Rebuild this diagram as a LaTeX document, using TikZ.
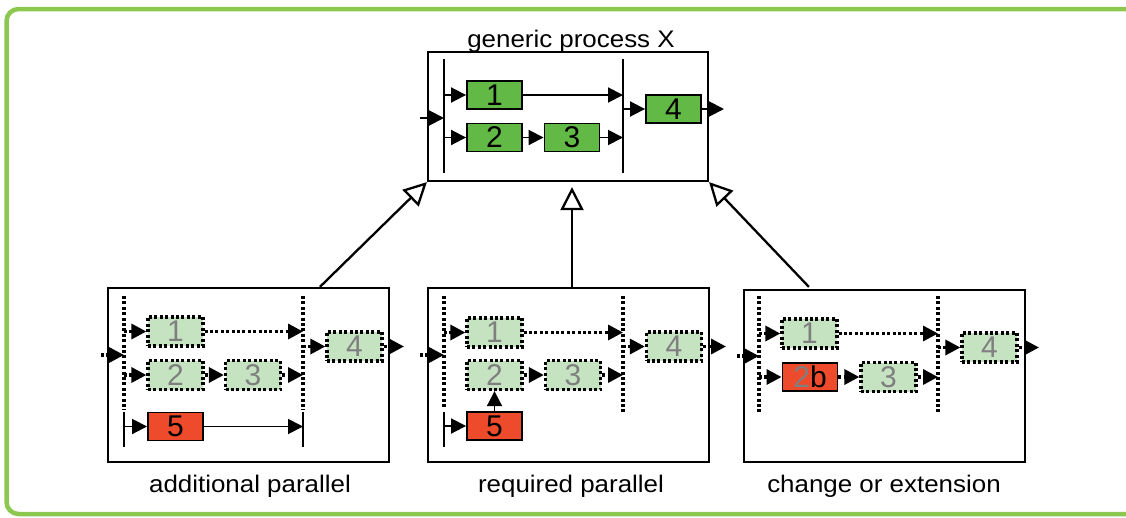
\documentclass[tikz,border=0pt]{standalone}
\usepackage{fontspec}
\setmainfont{Liberation Sans}
\usetikzlibrary{arrows.meta,calc}
\definecolor{framec}{HTML}{8CC84F}
\definecolor{dg}{HTML}{63B946}
\definecolor{lg}{HTML}{C5E3C1}
\definecolor{rd}{HTML}{EE4B2C}
\definecolor{gtext}{HTML}{7F7F7F}
\tikzset{
  pbox/.style={draw, line width=1.9pt, minimum width=55pt, minimum height=28pt, inner sep=0pt, font=\fontsize{30}{30}\selectfont},
  gbox/.style={pbox, fill=dg},
  rbox/.style={pbox, fill=rd},
  lbox/.style={draw, line width=3.3pt, dash pattern=on 3pt off 2.4pt, fill=lg, text=gtext, minimum width=55pt, minimum height=29pt, inner sep=0pt, font=\fontsize{30}{30}\selectfont},
  outer/.style={draw, line width=2.2pt, inner sep=0pt},
  arr/.style={line width=1.9pt, -{Triangle[length=15pt,width=15pt]}},
  darr/.style={line width=3.3pt, dash pattern=on 3pt off 2.4pt, -{Triangle[length=15pt,width=15pt]}},
  sbar/.style={line width=2.1pt},
  dbar/.style={line width=3.3pt, dash pattern=on 3pt off 2.4pt},
  inh/.style={line width=2.3pt, -{Triangle[length=23pt,width=23pt,fill=white]}},
  lab/.style={font=\fontsize{24}{24}\selectfont, anchor=base, inner sep=0pt}
}
\newcommand{\stretchtxt}[1]{\scalebox{1.08}[1]{#1}}
\begin{document}
\begin{tikzpicture}[x=1pt,y=-1pt]
\useasboundingbox (0,0) rectangle (1126,517);
% green frame
\draw[framec, line width=4.5pt, rounded corners=12pt] (1140,9) -- (6.5,9) -- (6.5,514) -- (1140,514);

% ===== top box =====
\node[outer, minimum width=280pt, minimum height=129pt] (T) at (568,116.5) {};
\node[lab] (Tt) at (571,47) {\stretchtxt{generic process X}};
\coordinate (TLa) at (444,59); \coordinate (TLb) at (444,173);
\coordinate (TRa) at (623,59); \coordinate (TRb) at (623,173);
\draw[sbar] (TLa) -- (TLb);
\draw[sbar] (TRa) -- (TRb);
\node[gbox] (t1) at (494.5,95) {1};
\node[gbox] (t2) at (494.5,137.5) {2};
\node[gbox] (t3) at (572,137.5) {3};
\node[gbox] (t4) at (673.5,109) {4};
\coordinate (tin) at (420,118); \coordinate (tinE) at (444,118);
\draw[arr] (tin) -- (tinE);
\draw[arr] (TLa |- t1) -- (t1);
\draw[arr] (TLa |- t2) -- (t2);
\draw[arr] (t2) -- (t3);
\draw[arr] (t1) -- (TRa |- t1);
\draw[arr] (t3) -- (TRa |- t3);
\draw[arr] (TRa |- t4) -- (t4);
\coordinate (tout) at (724,109);
\draw[arr] (t4) -- (tout);

% ===== bottom left box =====
\node[outer, minimum width=281pt, minimum height=174pt] (A) at (248.5,375) {};
\node[lab] (At) at (250,492) {\stretchtxt{additional parallel}};
\coordinate (ALa) at (124,296); \coordinate (ALb) at (124,410);
\coordinate (ALc) at (124,412); \coordinate (ALd) at (124,447);
\coordinate (ARa) at (303,296); \coordinate (ARb) at (303,410);
\coordinate (ARc) at (303,412); \coordinate (ARd) at (303,447);
\draw[dbar] (ALa) -- (ALb);
\draw[sbar] (ALc) -- (ALd);
\draw[dbar] (ARa) -- (ARb);
\draw[sbar] (ARc) -- (ARd);
\node[lbox] (a1) at (175.5,331.5) {1};
\node[lbox] (a2) at (175.5,375) {2};
\node[lbox] (a3) at (253,375) {3};
\node[lbox] (a4) at (354.5,346.5) {4};
\node[rbox] (a5) at (175.5,426.5) {5};
\coordinate (ain) at (101,355); \coordinate (ainE) at (124,355);
\draw[darr] (ain) -- (ainE);
\draw[darr] (ALa |- a1) -- (a1);
\draw[darr] (ALa |- a2) -- (a2);
\draw[darr] (a2) -- (a3);
\draw[darr] (a1) -- (ARa |- a1);
\draw[darr] (a3) -- (ARa |- a3);
\draw[darr] (ARa |- a4) -- (a4);
\coordinate (aout) at (404,346.5);
\draw[darr] (a4) -- (aout);
\draw[arr] (ALc |- a5) -- (a5);
\draw[arr] (a5) -- (ARc |- a5);

% ===== bottom middle box =====
\node[outer, minimum width=281pt, minimum height=174pt] (B) at (568.5,375) {};
\node[lab] (Bt) at (571,492) {\stretchtxt{required parallel}};
\coordinate (BLa) at (444,296); \coordinate (BLb) at (444,408);
\coordinate (BLc) at (444,412); \coordinate (BLd) at (444,447);
\coordinate (BRa) at (623,296); \coordinate (BRb) at (623,413);
\draw[dbar] (BLa) -- (BLb);
\draw[sbar] (BLc) -- (BLd);
\draw[dbar] (BRa) -- (BRb);
\node[lbox] (b1) at (494.5,332.5) {1};
\node[lbox] (b2) at (494.5,375) {2};
\node[lbox] (b3) at (573,375) {3};
\node[lbox] (b4) at (674,346.5) {4};
\node[rbox] (b5) at (494.5,426) {5};
\coordinate (bin) at (420,355); \coordinate (binE) at (444,355);
\draw[darr] (bin) -- (binE);
\draw[darr] (BLa |- b1) -- (b1);
\draw[darr] (b2) -- (b3);
\draw[darr] (b1) -- (BRa |- b1);
\draw[darr] (b3) -- (BRa |- b3);
\draw[darr] (BRa |- b4) -- (b4);
\coordinate (bout) at (726,346.5);
\draw[darr] (b4) -- (bout);
\draw[arr] (BLc |- b5) -- (b5);
\draw[arr] (b5) -- (b2);

% ===== bottom right box =====
\node[outer, minimum width=281pt, minimum height=172pt] (C) at (884.5,376) {};
\node[lab] (Ct) at (884,492) {\stretchtxt{change or extension}};
\coordinate (CLa) at (759,296); \coordinate (CLb) at (759,413);
\coordinate (CRa) at (938,296); \coordinate (CRb) at (938,413);
\draw[dbar] (CLa) -- (CLb);
\draw[dbar] (CRa) -- (CRb);
\node[lbox] (c1) at (809.5,333.5) {1};
\node[rbox] (c2) at (810,377) {\textcolor{gtext}{2}b};
\node[lbox] (c3) at (888.5,377) {3};
\node[lbox] (c4) at (989.5,347.5) {4};
\coordinate (cin) at (737,356); \coordinate (cinE) at (759,356);
\draw[darr] (cin) -- (cinE);
\draw[darr] (CLa |- c1) -- (c1);
\draw[darr] (CLa |- c2) -- (c2);
\draw[darr] (c2) -- (c3);
\draw[darr] (c1) -- (CRa |- c1);
\draw[darr] (c3) -- (CRa |- c3);
\draw[darr] (CRa |- c4) -- (c4);
\coordinate (cout) at (1039,347.5);
\draw[darr] (c4) -- (cout);

% ===== inheritance arrows =====
\draw[inh] ($(A.north west)+(213,0)$) -- (T.south west);
\draw[inh, shorten >=5pt] (B.north -| t3) -- (T.south -| t3);
\draw[inh] ($(C.north west)+(66,-2)$) -- (T.south east);
\end{tikzpicture}
\end{document}
